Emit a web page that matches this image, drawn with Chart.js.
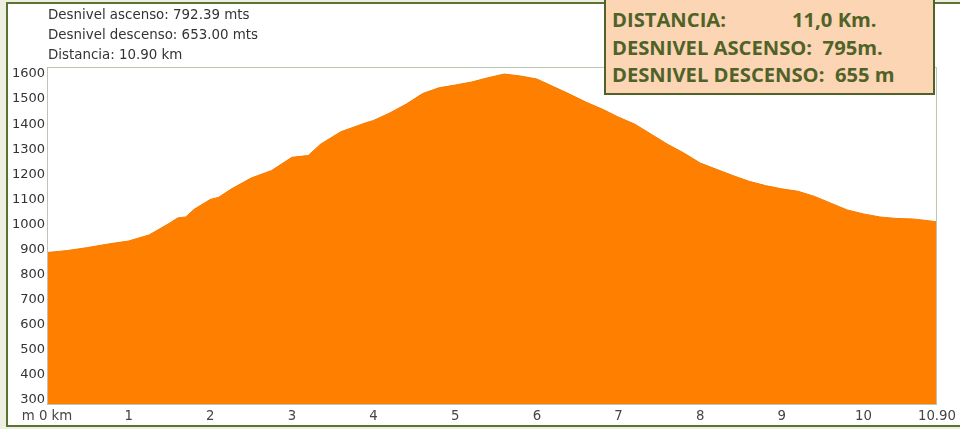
<!DOCTYPE html>
<html>
<head>
<meta charset="utf-8">
<script src="https://cdn.jsdelivr.net/npm/chart.js@4"></script>
<style>
  html, body { margin: 0; padding: 0; }
  body { width: 960px; height: 429px; background: #edf0e1; position: relative; overflow: hidden; }
  .frame {
    position: absolute; left: 6px; top: 2px; width: 970px; height: 421px;
    border: 2px solid #5b7332; background: #fff;
  }
  #profile { position: absolute; left: 0; top: 0; }
  .stats {
    position: absolute; left: 48px; top: 5px;
    font: 13.4px "DejaVu Sans", sans-serif; color: #333; line-height: 20px;
  }
  .box {
    position: absolute; left: 604px; top: -4px; width: 321px; height: 87px;
    background: #fcd5b5; border: 2px solid #4f6228;
    font: bold 20.2px "Open Sans", sans-serif; color: #4f6228; line-height: 27.5px;
    padding: 8px 0 0 6px; box-sizing: content-box; white-space: nowrap;
  }
  .box span { display: inline-block; }
</style>
</head>
<body>
<div class="frame"></div>
<canvas id="profile" width="960" height="429"></canvas>
<div class="stats">
  <div>Desnivel ascenso: 792.39 mts</div>
  <div>Desnivel descenso: 653.00 mts</div>
  <div>Distancia: 10.90 km</div>
</div>
<div class="box">
  <div><span style="width:180px">DISTANCIA:</span>11,0 Km.</div>
  <div>DESNIVEL ASCENSO:&nbsp; 795m.</div>
  <div>DESNIVEL DESCENSO:&nbsp; 655 m</div>
</div>
<script>
// distance along the route (km) and elevation (m)
const distKm = [0, 0.25, 0.5, 0.75, 1.0, 1.25, 1.5, 1.6, 1.7, 1.8, 2.0, 2.1, 2.25, 2.5, 2.75,
  3.0, 3.2, 3.35, 3.6, 3.9, 4.0, 4.2, 4.4, 4.6, 4.8, 5.0, 5.2, 5.4, 5.6, 5.8,
  6.0, 6.2, 6.4, 6.6, 6.8, 7.0, 7.2, 7.4, 7.6, 7.8, 8.0, 8.2, 8.4, 8.6, 8.8,
  9.0, 9.2, 9.4, 9.6, 9.8, 10.0, 10.2, 10.4, 10.6, 10.8, 10.9];
const elevM = [888, 896, 908, 922, 934, 958, 1005, 1026, 1030, 1060, 1100, 1108, 1140, 1185, 1215,
  1268, 1275, 1320, 1370, 1405, 1415, 1445, 1480, 1522, 1545, 1556, 1568, 1585, 1600, 1592,
  1580, 1550, 1520, 1488, 1460, 1428, 1400, 1360, 1320, 1285, 1245, 1220, 1195, 1172, 1155,
  1142, 1132, 1112, 1085, 1058, 1042, 1030, 1024, 1022, 1015, 1010];

const xTickValues = [0, 1, 2, 3, 4, 5, 6, 7, 8, 9, 10, 10.9];
const xTickLabels = ['m 0 km', '1', '2', '3', '4', '5', '6', '7', '8', '9', '10', '10.90'];
const yTickValues = [300, 400, 500, 600, 700, 800, 900, 1000, 1100, 1200, 1300, 1400, 1500, 1600];

const plotFrame = {
  id: 'plotFrame',
  afterDraw(chart) {
    const { ctx, chartArea: a } = chart;
    ctx.save();
    ctx.strokeStyle = '#b9c7b4';
    ctx.lineWidth = 1;
    ctx.strokeRect(a.left + 0.5, a.top + 0.5, a.right - a.left - 1, a.bottom - a.top - 1);
    ctx.restore();
  },
};

const ctx = document.getElementById('profile').getContext('2d');
// eslint-disable-next-line no-new
new Chart(ctx, {
  type: 'line',
  data: {
    datasets: [{
      data: distKm.map((d, i) => ({ x: d, y: elevM[i] })),
      backgroundColor: '#ff8000',
      borderColor: '#f27a00',
      borderWidth: 1,
      pointRadius: 0,
      fill: 'start',
      tension: 0,
    }],
  },
  plugins: [plotFrame],
  options: {
    responsive: false,
    animation: false,
    layout: { padding: { left: 0, top: 67, right: 23, bottom: 0 } },
    plugins: { legend: { display: false }, tooltip: { enabled: false } },
    scales: {
      x: {
        type: 'linear',
        min: 0,
        max: 10.9,
        grid: { display: false, drawTicks: false },
        border: { display: false },
        afterBuildTicks: (axis) => { axis.ticks = xTickValues.map((v) => ({ value: v })); },
        afterFit: (axis) => { axis.height = 24; },
        ticks: {
          autoSkip: false,
          maxRotation: 0,
          padding: 4,
          color: '#444',
          font: { family: 'DejaVu Sans', size: 13.3 },
          callback: (v) => xTickLabels[xTickValues.indexOf(v)],
        },
      },
      y: {
        min: 280,
        max: 1628,
        grid: { display: false, drawTicks: false },
        border: { display: false },
        afterBuildTicks: (axis) => { axis.ticks = yTickValues.map((v) => ({ value: v })); },
        afterFit: (axis) => { axis.width = 47; },
        ticks: {
          padding: 2,
          color: '#333',
          font: { family: 'DejaVu Sans', size: 13 },
          callback: (v) => String(v),
        },
      },
    },
  },
});
</script>
</body>
</html>
